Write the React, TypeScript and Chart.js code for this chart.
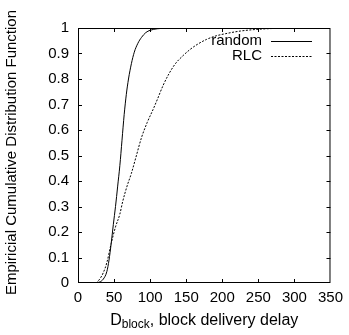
import React, { useEffect, useRef } from "react";
import { Chart, registerables } from "chart.js";

Chart.register(...registerables);

const randomX = [25, 30, 35, 40, 43, 46, 49, 52, 55, 58, 61, 64, 67, 70, 74, 78, 83, 88, 94, 100, 110, 130, 150];
const randomY = [0, 0.004, 0.015, 0.045, 0.09, 0.155, 0.23, 0.3, 0.38, 0.46, 0.56, 0.66, 0.74, 0.8, 0.86, 0.905, 0.94, 0.963, 0.982, 0.991, 0.997, 1, 1];
const rlcX = [25, 30, 35, 40, 46, 52, 58, 62, 68, 74, 80, 88, 96, 104, 110, 118, 126, 135, 145, 155, 165, 178, 190, 205, 225, 250, 280, 310];
const rlcY = [0, 0.015, 0.04, 0.08, 0.155, 0.22, 0.27, 0.32, 0.38, 0.43, 0.49, 0.57, 0.63, 0.68, 0.72, 0.775, 0.82, 0.86, 0.89, 0.915, 0.935, 0.955, 0.968, 0.978, 0.988, 0.995, 0.999, 1];
const xTicks = [0, 50, 100, 150, 200, 250, 300, 350];
const yTicks = [0, 0.1, 0.2, 0.3, 0.4, 0.5, 0.6, 0.7, 0.8, 0.9, 1];
const seriesNames = ["random", "RLC"];
const yTitle = "Empiricial Cumulative Distribution Function";
const xTitleMain = "D";
const xTitleSub = "block";
const xTitleRest = ", block delivery delay";

const FONT = "'Liberation Sans', Arial, sans-serif";
const FS = 15;

const framePlugin = {
  id: "frame",
  afterDraw(chart: any) {
    const { ctx, chartArea: a, scales } = chart;
    const xs = scales.x;
    const ys = scales.y;
    ctx.save();
    ctx.strokeStyle = "#000";
    ctx.lineWidth = 1;
    ctx.strokeRect(a.left + 0.5, a.top + 0.5, a.right - a.left - 1, a.bottom - a.top - 1);
    const tl = 4;
    ctx.beginPath();
    xTicks.forEach((v) => {
      const p = Math.round(xs.getPixelForValue(v)) + 0.5;
      if (v !== xTicks[0] && v !== xTicks[xTicks.length - 1]) {
        ctx.moveTo(p, a.bottom);
        ctx.lineTo(p, a.bottom - tl);
        ctx.moveTo(p, a.top);
        ctx.lineTo(p, a.top + tl);
      }
    });
    yTicks.forEach((v) => {
      const p = Math.round(ys.getPixelForValue(v)) + 0.5;
      if (v !== yTicks[0] && v !== yTicks[yTicks.length - 1]) {
        ctx.moveTo(a.left, p);
        ctx.lineTo(a.left + tl, p);
        ctx.moveTo(a.right, p);
        ctx.lineTo(a.right - tl, p);
      }
    });
    ctx.stroke();

    // legend
    ctx.fillStyle = "#000";
    ctx.font = `${FS}px ${FONT}`;
    ctx.textAlign = "right";
    ctx.textBaseline = "middle";
    const lx = 262;
    const ly = [41, 56];
    seriesNames.forEach((n, i) => {
      ctx.fillText(n, lx, ly[i]);
      ctx.beginPath();
      ctx.setLineDash(i === 0 ? [] : [2, 1.5]);
      ctx.moveTo(271, ly[i] + 0.5);
      ctx.lineTo(312, ly[i] + 0.5);
      ctx.stroke();
    });
    ctx.setLineDash([]);

    // x title
    ctx.textAlign = "left";
    ctx.textBaseline = "alphabetic";
    ctx.font = `${FS + 1}px ${FONT}`;
    const w1 = ctx.measureText(xTitleMain).width;
    ctx.font = `${FS - 3}px ${FONT}`;
    const w2 = ctx.measureText(xTitleSub).width;
    ctx.font = `${FS + 1}px ${FONT}`;
    const w3 = ctx.measureText(xTitleRest).width;
    const total = w1 + w2 + w3;
    const cx = (a.left + a.right) / 2;
    const x0 = cx - total / 2;
    const base = 325;
    ctx.fillText(xTitleMain, x0, base);
    ctx.font = `${FS - 3}px ${FONT}`;
    ctx.fillText(xTitleSub, x0 + w1, base + 3);
    ctx.font = `${FS + 1}px ${FONT}`;
    ctx.fillText(xTitleRest, x0 + w1 + w2, base);

    // y title
    ctx.save();
    ctx.translate(12, (a.top + a.bottom) / 2 - 3);
    ctx.rotate(-Math.PI / 2);
    ctx.textAlign = "center";
    ctx.textBaseline = "middle";
    ctx.font = `${FS}px ${FONT}`;
    ctx.fillText(yTitle, 0, 0);
    ctx.restore();
    ctx.restore();
  },
};

export default function App() {
  const ref = useRef<HTMLCanvasElement>(null);
  useEffect(() => {
    document.body.style.margin = "0";
    const chart = new Chart(ref.current!, {
      type: "line",
      data: {
        datasets: [
          {
            label: seriesNames[0],
            data: randomX.map((x, i) => ({ x, y: randomY[i] })),
            borderColor: "#000",
            borderWidth: 1,
            pointRadius: 0,
            cubicInterpolationMode: "monotone",
            fill: false,
          },
          {
            label: seriesNames[1],
            data: rlcX.map((x, i) => ({ x, y: rlcY[i] })),
            borderColor: "#000",
            borderWidth: 1,
            borderDash: [2, 1.5],
            pointRadius: 0,
            cubicInterpolationMode: "monotone",
            fill: false,
          },
        ],
      },
      options: {
        animation: false,
        responsive: false,
        events: [],
        layout: { padding: { left: 0, right: 16, top: 28, bottom: 0 } },
        plugins: { legend: { display: false }, tooltip: { enabled: false }, title: { display: false } },
        scales: {
          x: {
            type: "linear",
            min: 0,
            max: 350,
            afterBuildTicks: (s: any) => {
              s.ticks = xTicks.map((v) => ({ value: v }));
            },
            afterFit: (s: any) => {
              s.height = 52;
            },
            grid: { display: false, drawTicks: false },
            border: { display: false },
            ticks: { color: "#000", font: { family: FONT, size: FS }, padding: 6, maxRotation: 0, autoSkip: false },
          },
          y: {
            type: "linear",
            min: 0,
            max: 1,
            afterBuildTicks: (s: any) => {
              s.ticks = yTicks.map((v) => ({ value: v }));
            },
            afterFit: (s: any) => {
              s.width = 78;
            },
            grid: { display: false, drawTicks: false },
            border: { display: false },
            ticks: {
              color: "#000",
              font: { family: FONT, size: FS },
              padding: 9,
              autoSkip: false,
              callback: (v: any) => String(Math.round(Number(v) * 10) / 10),
            },
          },
        },
      },
      plugins: [framePlugin],
    } as any);
    return () => chart.destroy();
  }, []);
  return <canvas ref={ref} width={349} height={335} style={{ display: "block" }} />;
}
